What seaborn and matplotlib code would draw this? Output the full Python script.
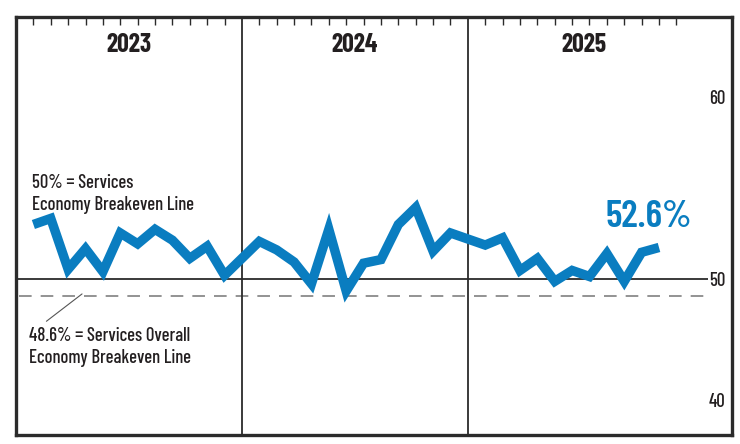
import numpy as np
import pandas as pd
import matplotlib
matplotlib.use('Agg')
import matplotlib.pyplot as plt
import seaborn as sns

# 数据：服务业PMI（按月）
years = [2023, 2024, 2025]
pmi_2023 = [54.5, 55.0, 50.8, 52.5, 50.6, 53.8, 52.9, 54.1, 53.2, 51.7, 52.7, 50.3]
pmi_2024 = [53.1, 52.4, 51.4, 49.6, 54.1, 49.0, 51.3, 51.6, 54.5, 55.9, 52.3, 53.8]
pmi_2025 = [52.8, 53.4, 50.7, 51.7, 49.8, 50.7, 50.2, 52.1, 49.8, 52.2, 52.6]
breakeven = 50.0
overall_breakeven = 48.6
latest_label = '52.6%'
y_ticks = [40, 50, 65]
y_tick_labels = ['40', '50', '60']

rows = []
for k, vals in enumerate([pmi_2023, pmi_2024, pmi_2025]):
    for m, v in enumerate(vals, start=1):
        rows.append({'year': years[k], 'month': m, 'pmi': v})
df = pd.DataFrame(rows)
# 每年占13格（12个月 + 分隔）
df['slot'] = (df['year'] - years[0]) * 13 + df['month']

sns.set_style('white')
plt.rcParams['font.family'] = ['Barlow Condensed', 'DejaVu Sans']

dark = '#2b2b2b'
blue = '#0a7dc0'
txt_c = '#231f20'

fig = plt.figure(figsize=(7.4, 4.44), dpi=100)
ax = fig.add_axes([16 / 740, 1 - 435 / 444, (732 - 16) / 740, (435 - 17) / 444])

ax.set_xlim(0, 41.2)
ax.set_ylim(37.1, 71.65)

# 参考线
ax.hlines(breakeven, 0, 39.8, color=dark, lw=1.3, zorder=2)
ax.hlines(overall_breakeven, 0.2, 39.8, color='#8a8a8a', lw=1.3, linestyles=(0, (7, 5)), zorder=2)

# 年份分隔线
for k in range(1, len(years)):
    ax.axvline(k * 13, color=dark, lw=1.3, zorder=2)

sns.lineplot(data=df, x='slot', y='pmi', ax=ax, color=blue, lw=6.8,
             solid_joinstyle='miter', solid_capstyle='butt', zorder=3)

# 顶部月份刻度
tick_slots = df['slot'].tolist() + [2 * 13 + 12]
ax.xaxis.tick_top()
ax.set_xticks(tick_slots)
ax.set_xticklabels([])
ax.tick_params(axis='x', direction='in', length=6, width=1, color=dark, top=True, bottom=False)

# 右侧数值标签（框内）
ax.yaxis.tick_right()
ax.set_yticks(y_ticks)
ax.set_yticklabels(y_tick_labels)
ax.tick_params(axis='y', length=0, pad=-5, labelsize=13.5, labelcolor=txt_c)
for lab in ax.get_yticklabels():
    lab.set_horizontalalignment('right')
    lab.set_fontweight(500)

ax.set_xlabel('')
ax.set_ylabel('')

for s in ax.spines.values():
    s.set_visible(True)
    s.set_color(dark)
    s.set_linewidth(2.4)

# 年份标题
for k, yr in enumerate(years):
    ax.text(k * 13 + 6.5 + (0.2 if k == 2 else 0), 0.933, str(yr), transform=ax.get_xaxis_transform(),
            ha='center', va='center', fontsize=18.5, fontweight='bold', color=txt_c)

# 注释文字
ax.text(0.9, 57.0, '50% = Services\nEconomy Breakeven Line', ha='left', va='center',
        fontsize=13.4, fontweight=500, color=txt_c, linespacing=1.3)
ax.text(0.73, 44.35, '48.6% = Services Overall\nEconomy Breakeven Line', ha='left', va='center',
        fontsize=13.4, fontweight=500, color=txt_c, linespacing=1.3)
ax.plot([1.75, 3.8], [46.5, 48.76], color='#555555', lw=0.8, zorder=2)

ax.text(36.4, 55.1, latest_label, ha='center', va='center', fontsize=27.5,
        fontweight=600, color=blue)

fig.savefig('out.png', dpi=100)
